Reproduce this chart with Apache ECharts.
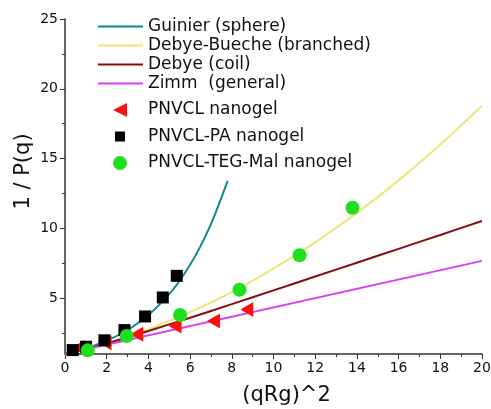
<!DOCTYPE html>
<html>
<head>
<meta charset="utf-8">
<script src="https://cdn.jsdelivr.net/npm/echarts@6/dist/echarts.min.js"></script>
<style>
html, body { margin: 0; padding: 0; background: #fff; }
#chart { width: 491px; height: 409px; }
</style>
</head>
<body>
<div id="chart"></div>
<script>
// fitted curves
const guinierX = [0, 1, 2, 3, 4, 5, 5.5, 6, 6.5, 7, 7.5, 7.8]
const guinierY = [1, 1.4, 1.95, 2.72, 3.79, 5.29, 6.25, 7.39, 8.73, 10.3, 12.2, 13.4]
const fitX = [0, 2, 4, 6, 8, 10, 12, 14, 16, 18, 20]
const debyeBuecheY = [1, 1.78, 2.78, 4, 5.44, 7.11, 9, 11.11, 13.44, 16, 18.78]
const debyeY = [1, 1.76, 2.65, 3.6, 4.57, 5.56, 6.55, 7.54, 8.53, 9.53, 10.53]
const zimmX = [0, 20]
const zimmY = [1, 7.67]

// measured points
const pnvclX = [0.64, 1.92, 3.44, 5.28, 7.12, 8.72]
const pnvclY = [1.46, 1.81, 2.41, 3.0, 3.36, 4.19]
const paX = [0.37, 1.01, 1.89, 2.85, 3.84, 4.69, 5.36]
const paY = [1.28, 1.52, 1.98, 2.71, 3.69, 5.05, 6.6]
const tegX = [1.09, 2.96, 5.52, 8.37, 11.25, 13.79]
const tegY = [1.26, 2.29, 3.79, 5.6, 8.07, 11.48]

const fitNames = ['Guinier (sphere)', 'Debye-Bueche (branched)', 'Debye (coil)', 'Zimm  (general)']
const dataNames = ['PNVCL nanogel', 'PNVCL-PA nanogel', 'PNVCL-TEG-Mal nanogel']
const yMajor = [5, 10, 15, 20, 25]
const yMinor = [2.5, 7.5, 12.5, 17.5, 22.5]

const font = 'DejaVu Sans'
const zip = (xs, ys) => xs.map((x, i) => [x, ys[i]])
const triangle = 'path://M0,6 L12,0 L12,12 Z'
const lineIcon = 'path://M0,0 L45,0 L45,2 L0,2 Z'
const smallSquare = 'path://M0,0 M2,2 L12,2 L12,12 L2,12 Z M14,14'

const lineSeries = (name, xs, ys, color) => ({
    name: name,
    type: 'line',
    data: zip(xs, ys),
    smooth: 0.3,
    symbol: 'none',
    lineStyle: { color: color, width: 2 },
    itemStyle: { color: color },
    z: 2
})

const chart = echarts.init(document.getElementById('chart'), null, { renderer: 'canvas' })
chart.setOption({
    animation: false,
    grid: { left: 65, right: 9, top: 19, bottom: 55, outerBoundsMode: 'none', containLabel: false },
    legend: [{
        data: fitNames.map(n => ({ name: n, icon: lineIcon })),
        orient: 'vertical',
        left: 98,
        top: 17,
        padding: 0,
        itemGap: 0,
        itemWidth: 45,
        itemHeight: 10,
        textStyle: { fontFamily: font, fontSize: 17, lineHeight: 19, color: '#111' }
    }, {
        data: [
            { name: dataNames[0], icon: triangle },
            { name: dataNames[1], icon: smallSquare },
            { name: dataNames[2], icon: 'circle' }
        ],
        orient: 'vertical',
        left: 113,
        top: 100.5,
        padding: 0,
        itemGap: 7.5,
        itemWidth: 14,
        itemHeight: 14,
        textStyle: { fontFamily: font, fontSize: 17, lineHeight: 19, color: '#111', padding: [0, 0, 0, 16] }
    }],
    xAxis: {
        type: 'value',
        min: 0,
        max: 20,
        interval: 2,
        name: '(qRg)^2',
        nameLocation: 'middle',
        nameGap: 31,
        nameMoveOverlap: false,
        nameTextStyle: { fontFamily: font, fontSize: 21, color: '#111', padding: [0, 0, 0, 26] },
        axisLine: { lineStyle: { color: '#333', width: 1.5 } },
        axisTick: { length: 5, lineStyle: { color: '#333' } },
        minorTick: { show: true, splitNumber: 2, length: 3, lineStyle: { color: '#333' } },
        axisLabel: { fontFamily: font, fontSize: 14, color: '#111', margin: 7 },
        splitLine: { show: false }
    },
    yAxis: [{
        type: 'value',
        min: 1,
        max: 25,
        name: '1 / P(q)',
        nameLocation: 'middle',
        nameGap: 31,
        nameMoveOverlap: false,
        nameTextStyle: { fontFamily: font, fontSize: 21, color: '#111', padding: [0, 0, 0, 30] },
        axisLine: { show: true, lineStyle: { color: '#333', width: 1.5 } },
        axisTick: { show: true, length: 5, customValues: yMajor, lineStyle: { color: '#333' } },
        axisLabel: { fontFamily: font, fontSize: 14, color: '#111', margin: 7, customValues: yMajor },
        splitLine: { show: false }
    }, {
        type: 'value',
        min: 1,
        max: 25,
        position: 'left',
        axisLine: { show: false },
        axisTick: { show: true, length: 3, customValues: yMinor, lineStyle: { color: '#333' } },
        axisLabel: { show: false },
        splitLine: { show: false }
    }],
    series: [
        lineSeries(fitNames[0], guinierX, guinierY, '#0e8a8c'),
        lineSeries(fitNames[1], fitX, debyeBuecheY, '#ece677'),
        lineSeries(fitNames[2], fitX, debyeY, '#8a0c0c'),
        lineSeries(fitNames[3], zimmX, zimmY, '#d840f2'),
        {
            name: dataNames[0],
            type: 'scatter',
            data: zip(pnvclX, pnvclY),
            symbol: triangle,
            symbolSize: [13, 15],
            itemStyle: { color: '#ff1010', opacity: 1 },
            z: 3
        },
        {
            name: dataNames[1],
            type: 'scatter',
            data: zip(paX, paY),
            symbol: 'rect',
            symbolSize: 12,
            itemStyle: { color: '#000', opacity: 1 },
            z: 3
        },
        {
            name: dataNames[2],
            type: 'scatter',
            data: zip(tegX, tegY),
            symbol: 'circle',
            symbolSize: 14,
            itemStyle: { color: '#1ee01e', opacity: 1 },
            z: 3
        }
    ]
})
</script>
</body>
</html>
